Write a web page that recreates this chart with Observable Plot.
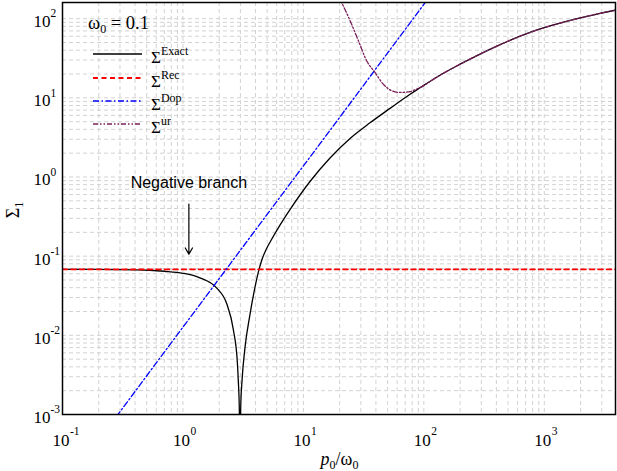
<!DOCTYPE html>
<html>
<head>
<meta charset="utf-8">
<script src="https://cdn.jsdelivr.net/npm/d3@7"></script>
<script src="https://cdn.jsdelivr.net/npm/@observablehq/plot@0.6"></script>
<style>
  html, body { margin: 0; padding: 0; background: #fff; }
  #chart svg { display: block; }
</style>
</head>
<body>
<div id="chart"></div>
<script>
// ---- data (x = p0/ω0, y = |Σ1|) ----
const exactX = [0.1, 0.2, 0.3, 0.4, 0.53, 0.7, 1.0, 1.38, 1.9, 2.31, 2.62, 2.83, 2.88, 2.94, 2.955, 2.965, 3.02, 3.09, 3.27, 3.6, 3.89, 4.24, 4.53, 4.89, 5.28, 6.39, 7.74, 11.34, 16.63, 24.4, 35.7, 52.4, 76.8, 93, 136, 200, 293, 430, 630, 923, 1352, 1983, 2905, 3900];
const exactY = [0.068, 0.0679, 0.0677, 0.0673, 0.0664, 0.0645, 0.0608, 0.0533, 0.0397, 0.0250, 0.0118, 0.0045, 0.0027, 0.0011, 0.0002, 0.0002, 0.0013, 0.0026, 0.0069, 0.0183, 0.0351, 0.0642, 0.0908, 0.1202, 0.150, 0.247, 0.388, 0.877, 1.74, 3.07, 4.83, 7.36, 11.1, 13.4, 19.3, 26.6, 35.7, 46.9, 60.0, 74.1, 87.7, 102, 117, 128];

const recX = [0.1, 1, 10, 100, 1000, 3900];
const recY = [0.068, 0.068, 0.068, 0.068, 0.068, 0.068];

const dopX = [0.28, 1, 10, 29.6, 102, 115];
const dopY = [0.00094, 0.0127, 1.38, 12.6, 158, 200];

const urX = [19.5, 20.8, 24.4, 28.6, 33.5, 39.3, 46.0, 54.1, 63.2, 77, 87, 93, 136, 200, 293, 430, 630, 923, 1352, 1983, 2905, 3900];
const urY = [198, 160, 94.3, 52.7, 29.4, 20.9, 14.9, 12.3, 11.7, 12.0, 12.9, 13.5, 19.3, 26.6, 35.7, 46.9, 60.0, 74.1, 87.7, 102, 117, 128];

// tick labels
const xTicks = [0.1, 1, 10, 100, 1000];
const xExp = ["-1", "0", "1", "2", "3"];
const yTicks = [0.001, 0.01, 0.1, 1, 10, 100];
const yExp = ["-3", "-2", "-1", "0", "1", "2"];

// legend / annotation
const seriesNames = ["Exact", "Rec", "Dop", "ur"];
const annoText = ["Negative branch"];
const annoX = [1.12];
const annoTextY = [0.84];
const arrowFromY = [0.455];
const arrowToY = [0.106];
const omegaText = "0.1";

// ---- styles ----
const serif = "'Liberation Serif', 'Times New Roman', Times, serif";
const sans = "'Liberation Sans', Arial, Helvetica, sans-serif";
const styles = {
  Exact: {stroke: "#000000", dash: null, width: 1.3},
  Rec: {stroke: "#ff0000", dash: "5,3.5", width: 1.6},
  Dop: {stroke: "#0000ff", dash: "6,2.5,1.5,2.5", width: 1.3},
  ur: {stroke: "#7b1f5c", dash: "5,2,1.5,2,1.5,2", width: 1.3}
};

const toRows = (xs, ys) => xs.map((x, i) => ({x, y: ys[i]}));
const exactData = toRows(exactX, exactY);
const recData = toRows(recX, recY);
const dopData = toRows(dopX, dopY);
const urData = toRows(urX, urY);
const annoData = annoText.map((t, i) => ({text: t, x: annoX[i], ty: annoTextY[i], y1: arrowFromY[i], y2: arrowToY[i]}));

const W = 617, H = 471;
const M = {left: 62, right: 2, top: 2, bottom: 57};
const xDomain = [0.1, 3900];
const yDomain = [0.001, 160];

// grid positions: 1..9 × each decade inside the domain
const minor = (lo, hi) => {
  const out = [];
  for (let e = Math.floor(Math.log10(lo)); e <= Math.ceil(Math.log10(hi)); e++)
    for (let m = 1; m <= 9; m++) {
      const v = m * Math.pow(10, e);
      if (v >= lo * 0.9999 && v <= hi * 1.0001) out.push(v);
    }
  return out;
};
const gridXVals = minor(xDomain[0], xDomain[1]);
const gridYVals = minor(yDomain[0], yDomain[1]);

const lineMark = (data, name, extra = {}) => Plot.line(data, {
  x: "x", y: "y", stroke: styles[name].stroke, strokeWidth: styles[name].width,
  strokeDasharray: styles[name].dash, clip: true, ...extra
});

const svg = Plot.plot({
  width: W, height: H,
  marginLeft: M.left, marginRight: M.right, marginTop: M.top, marginBottom: M.bottom,
  x: {type: "log", domain: xDomain, label: null},
  y: {type: "log", domain: yDomain, label: null},
  style: {fontFamily: serif, background: "#fff", color: "#000"},
  marks: [
    Plot.gridX(gridXVals, {stroke: "#d2d2d2", strokeOpacity: 1, strokeDasharray: "4,3"}),
    Plot.gridY(gridYVals, {stroke: "#d2d2d2", strokeOpacity: 1, strokeDasharray: "4,3"}),
    Plot.axisX(xTicks, {tickSize: 0, tickPadding: 19, tickFormat: () => "10", fontSize: 17, textAnchor: "end", dx: 7, label: null}),
    Plot.axisX(xTicks, {tickSize: 0, tickPadding: 12, tickFormat: d => xExp[xTicks.indexOf(d)], fontSize: 11.5, textAnchor: "start", dx: 7.5, label: null}),
    Plot.axisY(yTicks, {tickSize: 0, tickPadding: 12, tickFormat: () => "10", fontSize: 17, dy: 3, label: null}),
    Plot.axisY(yTicks, {tickSize: 0, tickPadding: 12, tickFormat: d => yExp[yTicks.indexOf(d)], fontSize: 11.5, textAnchor: "start", dy: -5, label: null}),
    lineMark(exactData, "Exact", {curve: "monotone-x"}),
    lineMark(recData, "Rec"),
    lineMark(dopData, "Dop"),
    lineMark(urData, "ur", {curve: "monotone-x"}),
    Plot.frame({stroke: "#000", strokeWidth: 1.5}),
    Plot.arrow(annoData, {x1: "x", y1: "y1", x2: "x", y2: "y2", stroke: "#000", strokeWidth: 1.2, headLength: 9}),
    Plot.text(annoData, {x: "x", y: "ty", text: "text", fontFamily: sans, fontSize: 16, fill: "#000"})
  ]
});

// ---- titles and legend (text with sub/superscripts) ----
const s = d3.select(svg);
const fx = M.left, fr = W - M.right, fb = H - M.bottom, ft = M.top;
const mkText = (parent, size, anchor) => parent.append("text")
  .attr("font-family", serif).attr("font-size", size).attr("fill", "#000")
  .attr("text-anchor", anchor).style("font-family", serif);

// x title p0/ω0
const xt = mkText(s, 18, "middle").attr("x", (fx + fr) / 2 + 1).attr("y", H - 6);
xt.append("tspan").attr("font-style", "italic").text("p");
xt.append("tspan").attr("font-size", 12).attr("dy", 4).text("0");
xt.append("tspan").attr("dy", -4).text("/ω");
xt.append("tspan").attr("font-size", 12).attr("dy", 4).text("0");

// y title Σ1
const yt = mkText(s, 18, "middle").attr("transform", `translate(19,${(ft + fb) / 2 + 2}) rotate(-90)`);
yt.append("tspan").text("Σ");
yt.append("tspan").attr("font-size", 12).attr("dy", 4).text("1");

// legend
const lg = s.append("g");
const om = mkText(lg, 18.5, "start").attr("x", fx + 26).attr("y", ft + 27);
om.append("tspan").text("ω");
om.append("tspan").attr("font-size", 12).attr("dy", 4).text("0");
om.append("tspan").attr("dy", -4).text(" = " + omegaText);

const rowY = [54, 78, 101, 124];
seriesNames.forEach((name, i) => {
  const y = rowY[i];
  lg.append("line").attr("x1", fx + 31).attr("x2", fx + 80).attr("y1", y).attr("y2", y)
    .attr("stroke", styles[name].stroke).attr("stroke-width", styles[name].width + 0.2)
    .attr("stroke-dasharray", styles[name].dash).attr("fill", "none");
  const t = mkText(lg, 17, "start").attr("x", fx + 89).attr("y", y + 9);
  t.append("tspan").text("Σ");
  t.append("tspan").attr("font-size", 12).attr("dy", -8).text(name);
});

document.getElementById("chart").appendChild(svg);
</script>
</body>
</html>
